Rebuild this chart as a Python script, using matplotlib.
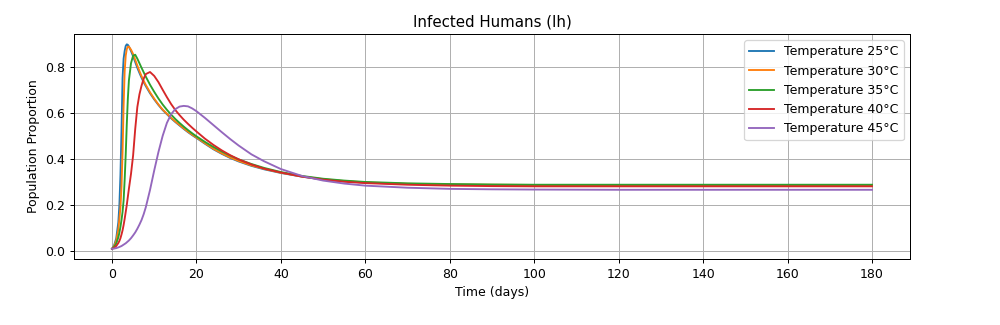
import matplotlib
matplotlib.use("Agg")
import matplotlib.pyplot as plt

# time points (days)
t = [0, 0.5, 1, 1.5, 1.75, 2, 2.25, 2.5, 2.75, 3, 3.25, 3.5, 3.75, 4, 4.5, 5,
     5.5, 6, 6.5, 7, 7.5, 8, 9, 10, 11, 12, 13, 14, 15, 16, 17, 18, 19, 20, 22,
     24, 26, 28, 30, 33, 36, 40, 45, 50, 55, 60, 70, 80, 90, 100, 120, 140, 160,
     180]

ih_25 = [0.010, 0.025, 0.055, 0.125, 0.200, 0.330, 0.520, 0.750, 0.835, 0.868,
         0.890, 0.897, 0.895, 0.888, 0.868, 0.845, 0.820, 0.795, 0.773, 0.752,
         0.733, 0.716, 0.685, 0.658, 0.634, 0.612, 0.594, 0.576, 0.560, 0.545,
         0.530, 0.516, 0.503, 0.491, 0.466, 0.442, 0.422, 0.404, 0.389, 0.370,
         0.355, 0.339, 0.323, 0.311, 0.303, 0.297, 0.291, 0.288, 0.287, 0.286,
         0.286, 0.286, 0.286, 0.286]

ih_30 = [0.010, 0.022, 0.045, 0.095, 0.140, 0.190, 0.280, 0.430, 0.630, 0.780,
         0.848, 0.876, 0.887, 0.887, 0.874, 0.855, 0.830, 0.805, 0.781, 0.759,
         0.739, 0.721, 0.689, 0.661, 0.636, 0.614, 0.596, 0.578, 0.562, 0.547,
         0.532, 0.518, 0.505, 0.493, 0.468, 0.444, 0.424, 0.406, 0.391, 0.372,
         0.357, 0.340, 0.324, 0.312, 0.304, 0.298, 0.292, 0.289, 0.288, 0.287,
         0.287, 0.287, 0.287, 0.287]

ih_35 = [0.010, 0.018, 0.033, 0.060, 0.080, 0.105, 0.135, 0.170, 0.220, 0.310,
         0.420, 0.550, 0.660, 0.740, 0.815, 0.848, 0.852, 0.835, 0.815, 0.795,
         0.776, 0.757, 0.722, 0.691, 0.662, 0.636, 0.613, 0.592, 0.573, 0.556,
         0.540, 0.525, 0.511, 0.498, 0.474, 0.452, 0.432, 0.414, 0.398, 0.378,
         0.361, 0.343, 0.326, 0.314, 0.306, 0.300, 0.294, 0.291, 0.289, 0.288,
         0.288, 0.288, 0.288, 0.288]

ih_40 = [0.010, 0.014, 0.022, 0.035, 0.044, 0.056, 0.072, 0.090, 0.113, 0.140,
         0.170, 0.200, 0.235, 0.270, 0.335, 0.415, 0.530, 0.625, 0.680, 0.718,
         0.748, 0.768, 0.777, 0.760, 0.733, 0.700, 0.668, 0.638, 0.612, 0.590,
         0.570, 0.552, 0.535, 0.519, 0.488, 0.461, 0.437, 0.416, 0.398, 0.376,
         0.358, 0.341, 0.323, 0.310, 0.301, 0.295, 0.288, 0.284, 0.282, 0.281,
         0.281, 0.281, 0.281, 0.281]

ih_45 = [0.010, 0.011, 0.013, 0.016, 0.018, 0.020, 0.022, 0.025, 0.028, 0.031,
         0.034, 0.038, 0.042, 0.046, 0.056, 0.068, 0.081, 0.097, 0.115, 0.135,
         0.160, 0.190, 0.265, 0.350, 0.430, 0.500, 0.556, 0.594, 0.616, 0.627,
         0.630, 0.628, 0.619, 0.607, 0.578, 0.547, 0.516, 0.486, 0.458, 0.420,
         0.390, 0.356, 0.326, 0.306, 0.293, 0.284, 0.275, 0.270, 0.268, 0.267,
         0.266, 0.266, 0.266, 0.266]

temps = [25, 30, 35, 40, 45]
series = [ih_25, ih_30, ih_35, ih_40, ih_45]

fig = plt.figure(figsize=(1000 / 90, 325 / 90), dpi=90)
for temp, ih in zip(temps, series):
    plt.plot(t, ih, label=f"Temperature {temp}°C")
plt.title("Infected Humans (Ih)")
plt.xlabel("Time (days)")
plt.ylabel("Population Proportion")
plt.xticks(range(0, 181, 20))
plt.legend(loc="upper right")
plt.grid(True)
plt.subplots_adjust(left=0.074, right=0.91, bottom=0.203, top=0.895)
plt.savefig("out.png")
